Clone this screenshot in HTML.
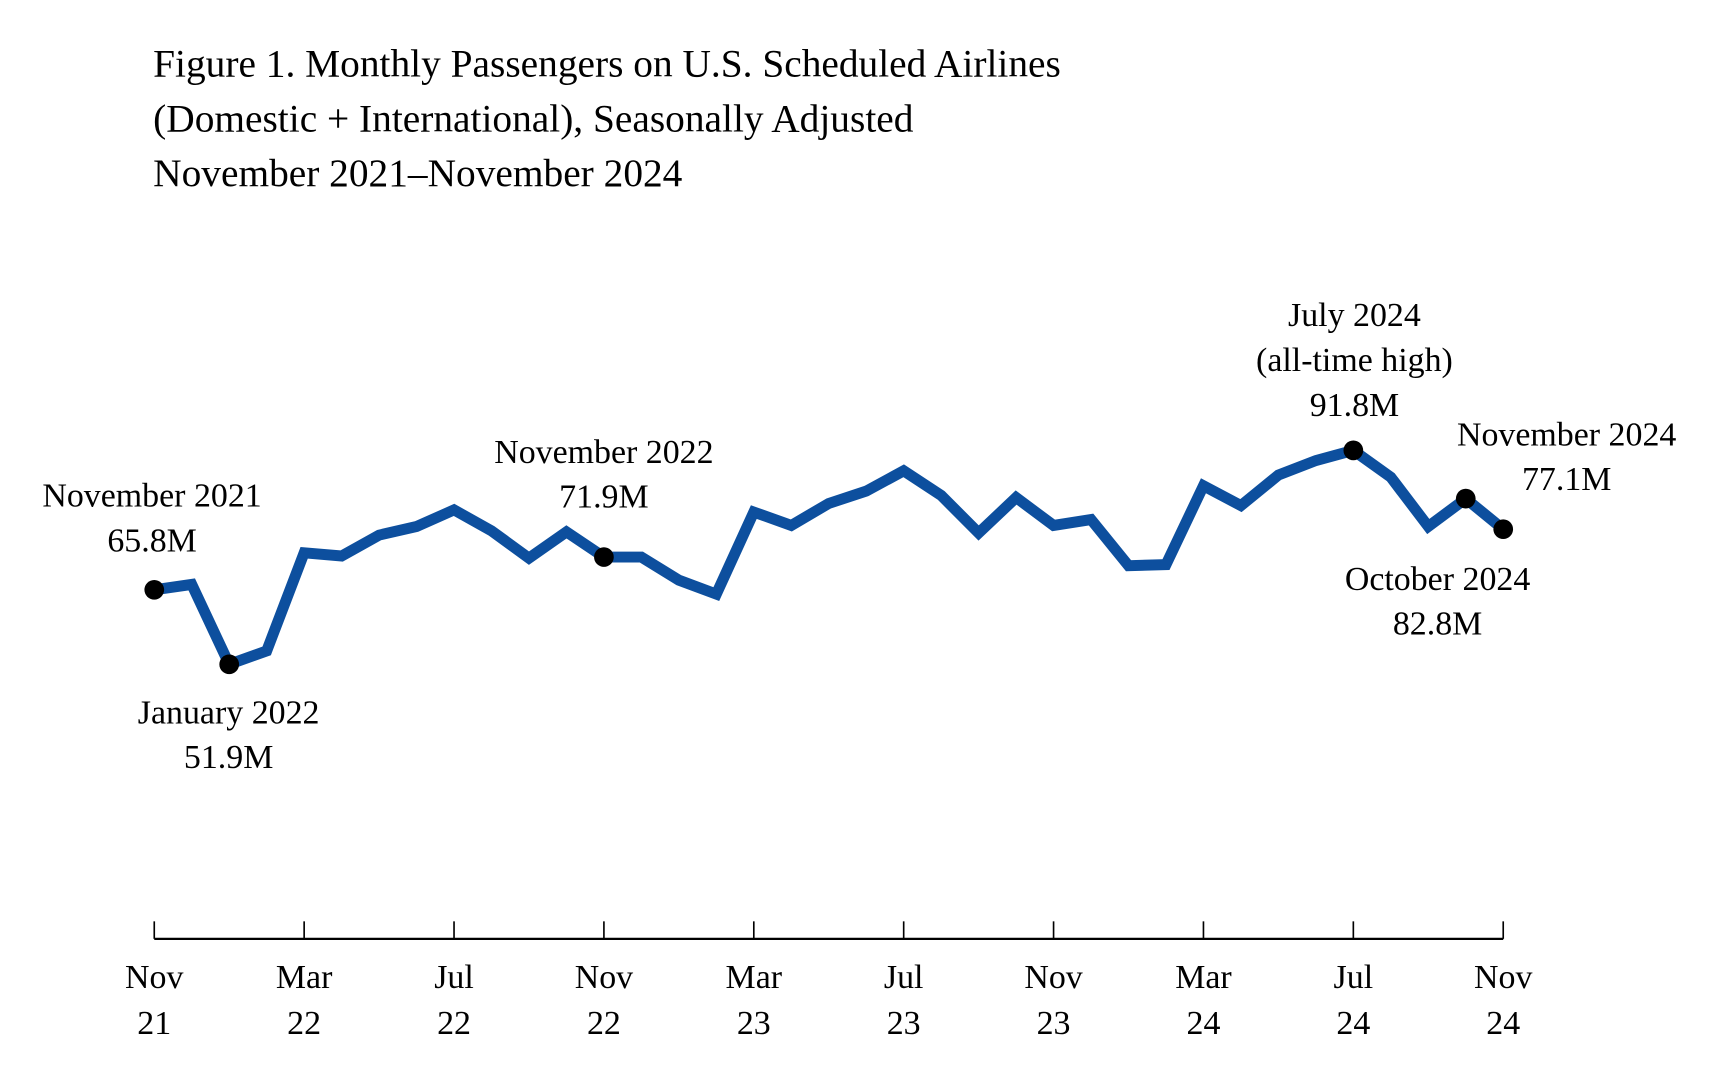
<!DOCTYPE html>
<html><head><meta charset="utf-8"><style>
html,body{margin:0;padding:0;background:#fff;}
svg{display:block;}
text{font-family:"Liberation Serif",serif;fill:#000;}
</style></head><body>
<svg id="chart" width="1710" height="1080" viewBox="0 0 1563 987" preserveAspectRatio="none" xmlns="http://www.w3.org/2000/svg">
<g font-size="36">
<text x="140" y="70">Figure 1. Monthly Passengers on U.S. Scheduled Airlines</text>
<text x="140" y="120">(Domestic + International), Seasonally Adjusted</text>
<text x="140" y="170">November 2021–November 2024</text>
</g>
<g id="axis"></g>
<g id="series"></g>
<g id="notes"></g>
</svg>
<script>
const values = [65.8,66.8,51.9,54.4,72.7,72.1,76.0,77.6,80.7,76.8,71.7,76.6,71.9,71.9,67.6,65.0,80.3,77.8,81.9,84.2,88.0,83.4,76.4,83.0,77.8,78.9,70.3,70.5,85.2,81.5,87.2,89.9,91.8,86.8,77.6,82.8,77.1];
const tickMonths = [0,4,8,12,16,20,24,28,32,36];
const tickTop = ["Nov","Mar","Jul","Nov","Mar","Jul","Nov","Mar","Jul","Nov"];
const tickBottom = ["21","22","22","22","23","23","23","24","24","24"];
const highlightIdx = [0,2,12,32,35,36];
const noteLines = [["November 2021","65.8M"],["January 2022","51.9M"],["November 2022","71.9M"],["July 2024","(all-time high)","91.8M"],["October 2024","82.8M"],["November 2024","77.1M"]];

const NS="http://www.w3.org/2000/svg";
const x = m => 141 + m*(1374-141)/36;
const y = v => 539 - (v-65.8)*4.9;
function mk(tag, attrs, parent){const e=document.createElementNS(NS,tag);for(const k in attrs)e.setAttribute(k,attrs[k]);parent.appendChild(e);return e;}

const axis=document.getElementById('axis');
const base=mk('line',{x1:141,x2:1374,y1:858,y2:858,stroke:'#000','stroke-width':2},axis);


tickMonths.forEach((m,i)=>{
  const t=mk('line',{x1:x(m),x2:x(m),y1:842,y2:858,stroke:'#000','stroke-width':1.5},axis);
  
  
  const l=mk('text',{x:x(m),y:903,'text-anchor':'middle','font-size':31},axis);
  l.textContent=tickTop[i];
  
  
  const l2=mk('text',{x:x(m),y:945,'text-anchor':'middle','font-size':31},axis);
  l2.textContent=tickBottom[i];
  
  
});

const series=document.getElementById('series');
const line=mk('polyline',{points:values.map((v,i)=>x(i)+','+y(v)).join(' '),fill:'none',stroke:'#0d4f9e','stroke-width':10,'stroke-linejoin':'miter','stroke-miterlimit':3},series);


highlightIdx.forEach(i=>{
  const c=mk('circle',{cx:x(i),cy:y(values[i]),r:9,fill:'#000'},series);
  
  
});

const notes=document.getElementById('notes');
const notePos=[[139,463],[209,661],[552,423],[1238,298],[1314,539],[1432,407]];
noteLines.forEach((lines,k)=>{
  lines.forEach((s,j)=>{
    const t=mk('text',{x:notePos[k][0],y:notePos[k][1]+j*41,'text-anchor':'middle','font-size':31},notes);
    t.textContent=s;
    
    
  });
});
</script>
</body></html>
